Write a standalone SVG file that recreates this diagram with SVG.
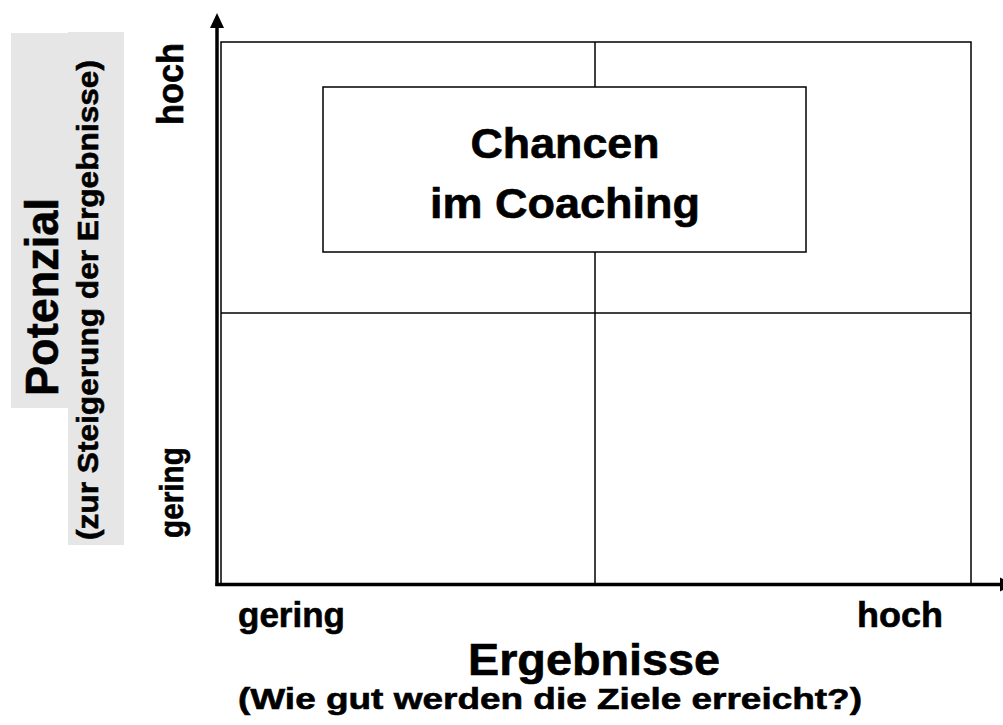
<svg xmlns="http://www.w3.org/2000/svg" width="1003" height="725" viewBox="0 0 1003 725">
<style>
text{font-family:"Liberation Sans",Arial,sans-serif;font-weight:bold;fill:#000;stroke:#000;stroke-width:0.6}
.thin{stroke:#000;stroke-width:1.5;fill:none}
.axis{stroke:#000;stroke-width:3.5;fill:none}
.band{fill:#e6e6e6}
</style>
<rect width="1003" height="725" fill="#fff"/>
<g id="label-bands">
<rect class="band" x="11" y="33" width="57" height="375"/>
<rect class="band" x="68" y="32" width="56" height="513"/>
</g>
<g id="grid">
<rect class="thin" x="221" y="42" width="750" height="542"/>
<line class="thin" x1="595" y1="42" x2="595" y2="584"/>
<line class="thin" x1="221" y1="313" x2="971" y2="313"/>
</g>
<g id="connectors">
<line class="axis" x1="217" y1="586" x2="217" y2="26"/>
<polygon points="210,28 217,13 224,28" fill="#000"/>
<line class="axis" x1="215.5" y1="584.5" x2="1002" y2="584.5"/>
<polygon points="1000,577.5 1015,584.5 1000,591.5" fill="#000"/>
</g>
<g id="node-chancen">
<rect x="323" y="87" width="483" height="165" fill="#fff" stroke="#000" stroke-width="1.5"/>
<text x="565" y="158" font-size="42" text-anchor="middle" textLength="189" lengthAdjust="spacingAndGlyphs">Chancen</text>
<text x="565" y="218" font-size="42" text-anchor="middle" textLength="270" lengthAdjust="spacingAndGlyphs">im Coaching</text>
</g>
<g id="y-labels">
<text transform="translate(58,396) rotate(-90)" font-size="46" textLength="198" lengthAdjust="spacingAndGlyphs">Potenzial</text>
<text transform="translate(98,540) rotate(-90)" font-size="30" textLength="480" lengthAdjust="spacingAndGlyphs">(zur Steigerung der Ergebnisse)</text>
<text transform="translate(183,125) rotate(-90)" font-size="36" textLength="82" lengthAdjust="spacingAndGlyphs">hoch</text>
<text transform="translate(183,538) rotate(-90)" font-size="34" textLength="91" lengthAdjust="spacingAndGlyphs">gering</text>
</g>
<g id="x-labels">
<text x="238" y="627" font-size="35" textLength="107" lengthAdjust="spacingAndGlyphs">gering</text>
<text x="857" y="627" font-size="35" textLength="86" lengthAdjust="spacingAndGlyphs">hoch</text>
<text x="594" y="675" font-size="44" text-anchor="middle" textLength="252" lengthAdjust="spacingAndGlyphs">Ergebnisse</text>
<text x="550" y="709" font-size="30" text-anchor="middle" textLength="624" lengthAdjust="spacingAndGlyphs">(Wie gut werden die Ziele erreicht?)</text>
</g>
</svg>
